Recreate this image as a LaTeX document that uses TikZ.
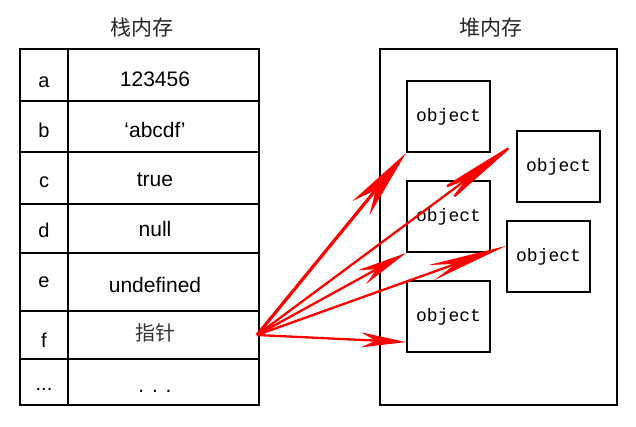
\documentclass[tikz,border=0pt]{standalone}
\usepackage{fontspec}
\setmainfont{Liberation Sans}
\newfontfamily\cjk{Noto Sans CJK SC}
\newfontfamily\objfont{Liberation Mono}
\usetikzlibrary{arrows.meta,calc}

\tikzset{
  frame/.style={draw, line width=2.8pt},
  rowline/.style={draw, line width=1.1pt},
  keytxt/.style={anchor=base, inner sep=0pt, font=\fontsize{20}{24}\selectfont},
  valtxt/.style={anchor=base, inner sep=0pt, font=\fontsize{21}{24}\selectfont},
  title/.style={inner sep=0pt, text=black!85, font=\cjk\fontsize{21}{24}\selectfont},
  objbox/.style={draw, line width=2pt, minimum width=83pt, minimum height=71pt,
    inner sep=0pt, font=\objfont\fontsize{18}{20}\selectfont},
  ptr/.style 2 args={draw=red, line width=2.3pt, -{Stealth[length=#1, width=#2]}}
}

\begin{document}
\begin{tikzpicture}[x=1pt, y=-1pt]
    \useasboundingbox (0,0) rectangle (636,426);

    % stack side
    \node[title] (stacktitle) at (142,28) {栈内存};
    \draw[frame] (20,49) rectangle (259,405);
    \draw[rowline] (68,49) -- (68,405);
    \foreach \y in {101,152,204,253,311,359}
      \draw[rowline] (20,\y) -- (259,\y);

    \node[keytxt] (ka) at (44,87) {a};
    \node[valtxt] (va) at (155,86) {123456};
    \node[keytxt] (kb) at (44,137) {b};
    \node[valtxt] (vb) at (155,137) {‘abcdf’};
    \node[keytxt] (kc) at (44,187) {c};
    \node[valtxt] (vc) at (155,186) {true};
    \node[keytxt] (kd) at (44,237) {d};
    \node[valtxt] (vd) at (155,236) {null};
    \node[keytxt] (ke) at (44,287) {e};
    \node[valtxt] (ve) at (155,292) {undefined};
    \node[keytxt] (kf) at (44,347) {f};
    \node[valtxt, text=black!80, font=\cjk\fontsize{20}{24}\selectfont] (vf) at (155,340) {指针};
    \node[keytxt] (kdots) at (44,390) {...};
    \node[valtxt] (vdots) at (155,392) {. . .};
    \coordinate (ptr) at (257,335);

    % heap side
    \node[title] (heaptitle) at (491,28) {堆内存};
    \draw[frame] (380,49) rectangle (617,405);
    \node[objbox] (obj1) at (448.5,116.5) {object};
    \node[objbox] (obj2) at (558.5,166.5) {object};
    \node[objbox] (obj3) at (448.5,216.5) {object};
    \node[objbox] (obj4) at (548.5,256.5) {object};
    \node[objbox] (obj5) at (448.5,316.5) {object};

    % pointers
    \draw[ptr={71pt}{22pt}, line width=3.2pt] (ptr) -- (obj1.south west);
    \draw[ptr={98pt}{17pt}] (ptr) -- ($(obj2.west)+(3,-26)$);
    \draw[ptr={50pt}{16pt}] (ptr) -- (obj3.south west);
    \draw[ptr={79pt}{16pt}] (ptr) -- (obj4.166);
    \draw[ptr={45pt}{15pt}] (ptr) -- (obj5.211);
\end{tikzpicture}
\end{document}
